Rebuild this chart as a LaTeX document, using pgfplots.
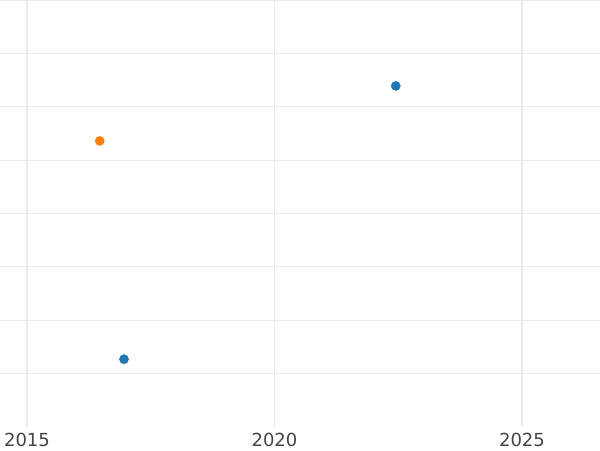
\documentclass[border=0pt]{standalone}
\usepackage{fontspec}
\setmainfont{DejaVu Sans}
\usepackage{pgfplots}
\pgfplotsset{compat=1.18}
\definecolor{c1}{HTML}{1F77B4}
\definecolor{c2}{HTML}{FF7F0E}
\definecolor{gridc}{HTML}{EBEBEB}
\definecolor{txt}{HTML}{444444}
\begin{document}
\begin{tikzpicture}
\begin{axis}[
  at={(0,0)}, anchor=south west,
  scale only axis,
  width=450pt, height=320.25pt,
  xmin=2014.455, xmax=2026.576,
  ymin=-1, ymax=7,
  xtick={2015,2020,2025},
  ytick={0,1,2,3,4,5,6,7},
  yticklabels={},
  major tick length=0pt,
  axis line style={draw=none},
  grid=major,
  major grid style={draw=gridc, line width=0.9pt},
  /pgf/number format/assume math mode=true,
  /pgf/number format/1000 sep={},
  xticklabel style={font=\fontsize{13.5}{16}\selectfont, text=txt, inner sep=0pt, yshift=-4.5pt, anchor=north},
  clip=false,
]
\addplot[only marks, mark=*, mark size=3.4pt, color=c1, mark options={draw=none, fill=c1}] coordinates {(2022.45,5.39) (2016.96,0.27)};
\addplot[only marks, mark=*, mark size=3.4pt, color=c2, mark options={draw=none, fill=c2}] coordinates {(2016.47,4.36)};
\end{axis}
\pgfresetboundingbox
\path[use as bounding box] (0,-17.25pt) rectangle (450pt,320.25pt);
\end{tikzpicture}
\end{document}
